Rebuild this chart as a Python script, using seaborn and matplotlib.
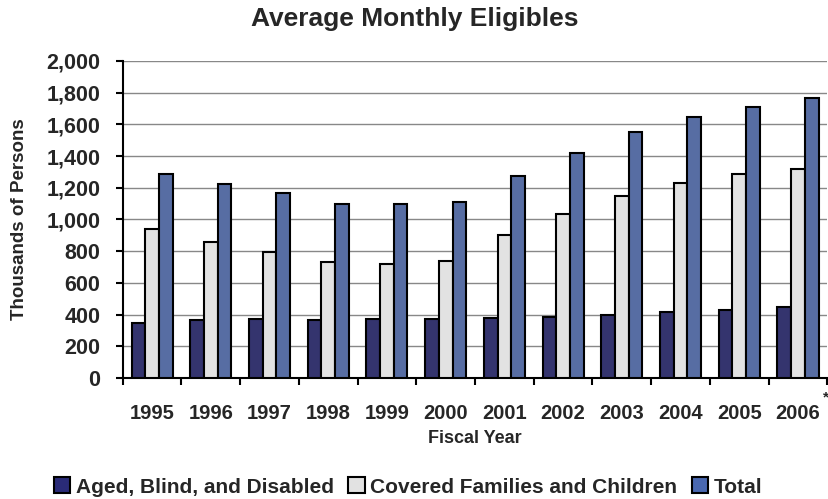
import matplotlib
matplotlib.use("Agg")
import matplotlib.pyplot as plt
import seaborn as sns
import pandas as pd
from matplotlib.patches import Patch

years = ["1995", "1996", "1997", "1998", "1999", "2000", "2001", "2002", "2003", "2004", "2005", "2006"]
aged_blind_disabled = [345, 365, 370, 365, 372, 372, 377, 385, 400, 415, 430, 445]
covered_families = [940, 860, 795, 730, 722, 735, 900, 1035, 1150, 1228, 1285, 1320]
total = [1285, 1225, 1165, 1095, 1095, 1107, 1277, 1420, 1550, 1643, 1712, 1765]
series_names = ["Aged, Blind, and Disabled", "Covered Families and Children", "Total"]
colors = ["#2A2B78", "#E2E2E2", "#4A68B0"]

rows = []
for name, vals in zip(series_names, [aged_blind_disabled, covered_families, total]):
    for y, v in zip(years, vals):
        rows.append({"Year": y, "Series": name, "Value": v})
df = pd.DataFrame(rows)

sns.set_style("white")
plt.rcParams['font.family'] = ['Liberation Sans', 'DejaVu Sans']
plt.rcParams['xtick.bottom'] = True
plt.rcParams['ytick.left'] = True
plt.rcParams['xtick.minor.bottom'] = True

fig = plt.figure(figsize=(8.29, 4.99), dpi=100)
ax = fig.add_axes([0.148, 0.2425, 0.85, 0.6355])

sns.barplot(data=df, x="Year", y="Value", hue="Series", order=years,
            hue_order=series_names, palette=colors, width=0.7,
            edgecolor="black", linewidth=1.5, ax=ax, legend=False, zorder=3)

ax.set_ylim(0, 2000)
ax.set_xlim(-0.5, len(years) - 0.5)
ax.set_yticks(range(0, 2001, 200))
ax.set_yticklabels([f"{v:,}" for v in range(0, 2001, 200)], fontweight="bold", fontsize=15.5)
ax.yaxis.grid(True, color="#888888", linewidth=1, zorder=0)
ax.set_axisbelow(True)

ax.set_xticks(range(len(years)))
ax.set_xticklabels(years, fontweight="bold", fontsize=14.5)
ax.tick_params(axis="x", which="major", length=0, pad=19)
ax.set_xticks([i - 0.5 for i in range(len(years) + 1)], minor=True)
ax.tick_params(axis="x", which="minor", length=5, width=1.5, color="black",
               direction="out", bottom=True)
ax.tick_params(axis="y", which="major", length=5, width=1.5, color="black",
               direction="out", left=True, pad=11)

for s in ["top", "right"]:
    ax.spines[s].set_visible(False)
for s in ["left", "bottom"]:
    ax.spines[s].set_color("black")
    ax.spines[s].set_linewidth(1.5)

ax.set_xlabel("Fiscal Year", fontweight="bold", fontsize=13, labelpad=5)
ax.set_ylabel("Thousands of Persons", fontweight="bold", fontsize=13.5)
ax.yaxis.set_label_coords(-0.134, 0.5)
fig.text(0.5, 1 - 19 / 499, "Average Monthly Eligibles", ha="center", va="center",
         fontweight="bold", fontsize=19)

fig.text(826 / 829, 1 - 397 / 499, "*", ha="center", va="center", fontsize=11, fontweight="bold")

handles = [Patch(facecolor=c, edgecolor="black", linewidth=1.5) for c in colors]
fig.legend(handles, series_names, loc="center", bbox_to_anchor=(408 / 829, 1 - 487 / 499), ncol=3,
           frameon=False, prop={"weight": "bold", "size": 15},
           handlelength=0.8, handleheight=0.8, handletextpad=0.25, columnspacing=0.7)

fig.savefig("out.png", dpi=100)
